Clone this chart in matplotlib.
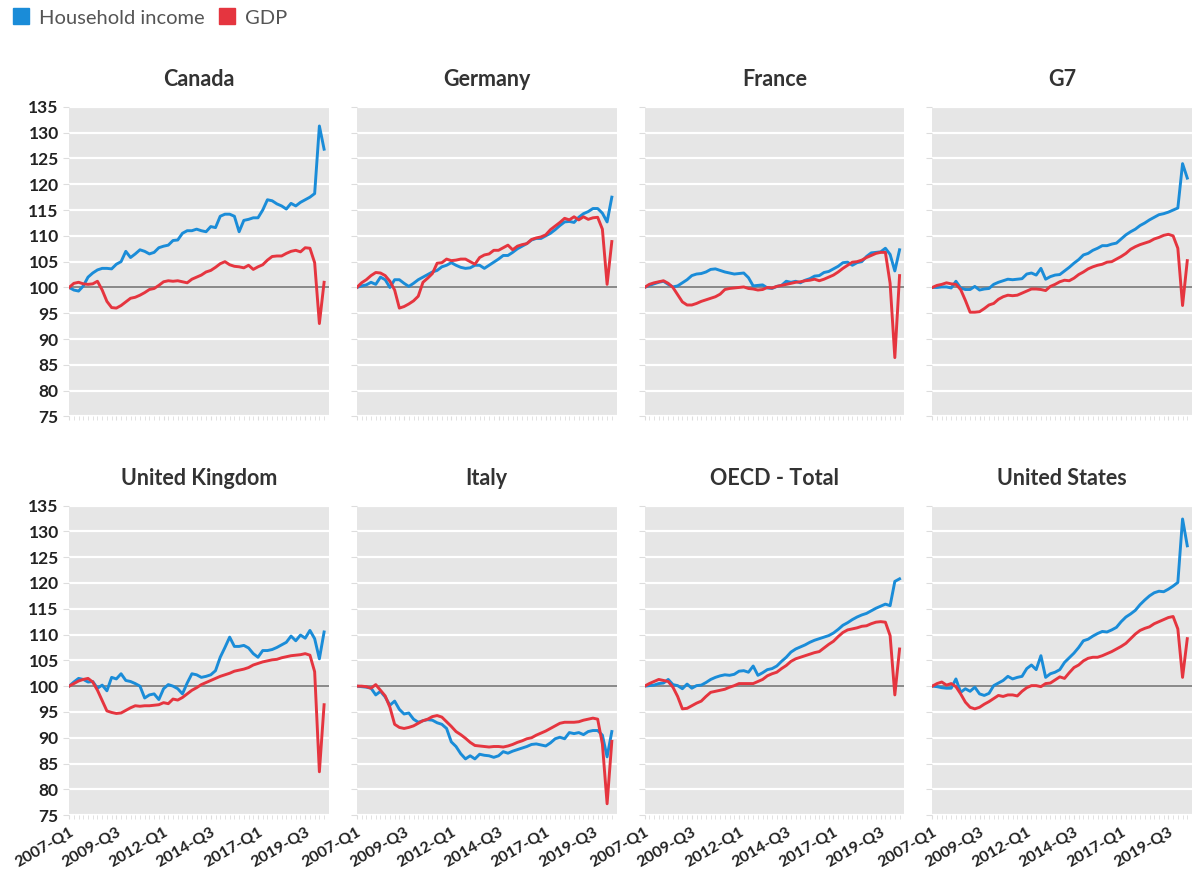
import matplotlib
matplotlib.use("Agg")
import matplotlib.pyplot as plt
from matplotlib.lines import Line2D

plt.rcParams['font.family'] = ['Lato', 'DejaVu Sans']

# quarters 2007-Q1 .. 2020-Q3
quarters = [f"{y}-Q{q}" for y in range(2007, 2021) for q in range(1, 5)][:55]
tick_labels = ["2007-Q1", "2009-Q3", "2012-Q1", "2014-Q3", "2017-Q1", "2019-Q3"]

titles = ["Canada", "Germany", "France", "G7",
          "United Kingdom", "Italy", "OECD - Total", "United States"]

canada_income = [100.0, 99.5, 99.3, 100.3, 102.0, 102.8, 103.4, 103.7, 103.7, 103.6,
                 104.5, 105.0, 107.0, 105.8, 106.5, 107.3, 107.0, 106.5, 106.8, 107.7,
                 108.0, 108.2, 109.1, 109.2, 110.5, 111.0, 111.0, 111.3, 111.0, 110.8,
                 111.8, 111.6, 113.8, 114.2, 114.2, 113.8, 110.8, 113.0, 113.2, 113.5,
                 113.5, 115.0, 117.0, 116.8, 116.2, 115.8, 115.2, 116.3, 115.8, 116.5,
                 117.0, 117.5, 118.2, 131.3, 126.8]
canada_gdp = [100.0, 100.8, 101.0, 100.7, 100.6, 100.7, 101.2, 99.5, 97.3, 96.1,
              96.0, 96.5, 97.2, 97.9, 98.1, 98.5, 99.0, 99.6, 99.8, 100.4,
              101.1, 101.3, 101.2, 101.3, 101.1, 100.9, 101.6, 102.0, 102.4, 103.0,
              103.3, 103.9, 104.6, 105.0, 104.4, 104.1, 104.0, 103.8, 104.3, 103.5,
              104.0, 104.4, 105.3, 106.0, 106.1, 106.1, 106.6, 107.0, 107.2, 106.9,
              107.7, 107.6, 104.8, 93.0, 101.0]

germany_income = [100.0, 100.3, 100.5, 101.0, 100.6, 102.0, 101.5, 100.0, 101.5, 101.5,
                  100.8, 100.2, 100.8, 101.5, 102.0, 102.5, 103.0, 103.3, 104.0, 104.3,
                  104.8, 104.3, 103.9, 103.7, 103.8, 104.3, 104.3, 103.7, 104.3, 104.9,
                  105.5, 106.2, 106.2, 106.8, 107.5, 108.0, 108.5, 109.2, 109.5, 109.5,
                  110.0, 110.5, 111.2, 112.0, 112.7, 112.8, 112.6, 113.6, 114.3, 114.7,
                  115.3, 115.3, 114.4, 112.7, 117.5]
germany_gdp = [100.0, 100.9, 101.5, 102.3, 102.9, 102.8, 102.3, 101.2, 99.5, 96.0,
               96.3, 96.8, 97.4, 98.3, 101.0, 101.8, 102.7, 104.7, 104.8, 105.5,
               105.2, 105.3, 105.5, 105.5, 105.0, 104.5, 105.8, 106.3, 106.5, 107.2,
               107.2, 107.7, 108.2, 107.3, 108.0, 108.3, 108.5, 109.3, 109.6, 109.8,
               110.2, 111.2, 111.9, 112.6, 113.4, 113.1, 113.7, 113.1, 113.7, 113.2,
               113.5, 113.6, 111.3, 100.6, 108.9]

france_income = [100.0, 100.4, 100.7, 101.0, 101.2, 100.6, 100.1, 100.3, 100.9, 101.5,
                 102.3, 102.6, 102.7, 103.0, 103.5, 103.6, 103.3, 103.0, 102.8, 102.6,
                 102.7, 102.8, 101.9, 100.3, 100.4, 100.5, 99.9, 99.8, 100.2, 100.4,
                 101.2, 101.0, 101.2, 100.9, 101.4, 101.7, 102.2, 102.3, 102.9, 103.1,
                 103.6, 104.1, 104.8, 104.9, 104.3, 104.8, 105.0, 106.0, 106.7, 106.8,
                 106.9, 107.6, 106.4, 103.2, 107.3]
france_gdp = [100.0, 100.6, 100.9, 101.1, 101.3, 100.8, 100.0, 98.6, 97.2, 96.6,
              96.6, 96.9, 97.3, 97.6, 97.9, 98.2, 98.7, 99.6, 99.8, 99.9,
              100.0, 100.1, 99.8, 99.7, 99.5, 99.6, 100.0, 99.9, 100.2, 100.4,
              100.6, 100.8, 101.0, 101.1, 101.3, 101.4, 101.6, 101.3, 101.6, 102.0,
              102.4, 103.0, 103.7, 104.3, 104.9, 105.0, 105.3, 105.8, 106.2, 106.6,
              106.8, 106.8, 100.8, 86.4, 102.3]

g7_income = [100.0, 100.0, 100.1, 100.1, 99.9, 101.2, 99.9, 99.6, 99.6, 100.2,
             99.5, 99.7, 99.8, 100.6, 101.0, 101.3, 101.6, 101.5, 101.6, 101.7,
             102.6, 102.8, 102.4, 103.7, 101.6, 102.1, 102.4, 102.5, 103.2, 103.9,
             104.7, 105.4, 106.3, 106.6, 107.2, 107.6, 108.1, 108.1, 108.4, 108.6,
             109.4, 110.2, 110.8, 111.3, 112.0, 112.5, 113.1, 113.6, 114.1, 114.3,
             114.6, 115.0, 115.4, 124.0, 121.2]
g7_gdp = [100.0, 100.4, 100.6, 100.9, 100.7, 100.6, 99.6, 97.5, 95.2, 95.2,
          95.3, 95.9, 96.6, 96.9, 97.7, 98.2, 98.5, 98.4, 98.5, 98.9,
          99.3, 99.7, 99.7, 99.6, 99.4, 100.2, 100.6, 101.1, 101.4, 101.3,
          101.8, 102.5, 103.0, 103.6, 104.0, 104.3, 104.5, 104.9, 105.0, 105.5,
          106.0, 106.6, 107.4, 107.9, 108.3, 108.6, 108.9, 109.4, 109.7, 110.1,
          110.3, 110.0, 107.6, 96.5, 105.2]

uk_income = [100.0, 100.8, 101.5, 101.3, 100.8, 100.9, 99.6, 100.2, 99.1, 101.7,
             101.4, 102.4, 101.1, 100.9, 100.5, 100.0, 97.7, 98.3, 98.5, 97.4,
             99.5, 100.3, 100.0, 99.5, 98.5, 100.6, 102.4, 102.2, 101.7, 101.9,
             102.2, 103.0, 105.6, 107.5, 109.5, 107.7, 107.7, 107.9, 107.4, 106.3,
             105.6, 106.9, 106.9, 107.1, 107.5, 108.0, 108.5, 109.7, 108.8, 109.9,
             109.3, 110.8, 109.2, 105.3, 110.5]
uk_gdp = [100.0, 100.5, 101.0, 101.3, 101.5, 100.8, 99.2, 97.2, 95.2, 94.9,
          94.7, 94.8, 95.3, 95.8, 96.2, 96.1, 96.2, 96.2, 96.3, 96.4,
          96.8, 96.6, 97.5, 97.3, 97.8, 98.5, 99.2, 99.7, 100.3, 100.7,
          101.1, 101.5, 101.9, 102.2, 102.5, 102.9, 103.1, 103.3, 103.6, 104.1,
          104.4, 104.7, 104.9, 105.1, 105.2, 105.5, 105.7, 105.9, 106.0, 106.1,
          106.3, 106.0, 102.8, 83.4, 96.4]

italy_income = [100.0, 99.9, 99.8, 99.6, 98.3, 99.0, 97.9, 96.3, 97.1, 95.5,
                94.6, 94.8, 93.6, 93.0, 93.3, 93.5, 93.4, 92.9, 92.6, 91.8,
                89.2, 88.3, 86.9, 85.9, 86.5, 85.9, 86.8, 86.6, 86.5, 86.2,
                86.5, 87.3, 87.0, 87.4, 87.7, 88.0, 88.3, 88.7, 88.8, 88.6,
                88.4, 89.0, 89.8, 90.1, 89.8, 91.0, 90.8, 91.0, 90.6, 91.2,
                91.4, 91.4, 90.5, 86.3, 91.2]
italy_gdp = [100.0, 100.0, 99.9, 99.6, 100.3, 99.2, 98.1, 95.9, 92.6, 92.0,
             91.8, 92.0, 92.3, 92.8, 93.3, 93.6, 94.1, 94.3, 94.0, 93.1,
             92.2, 91.2, 90.6, 89.9, 89.1, 88.5, 88.4, 88.3, 88.2, 88.3,
             88.3, 88.2, 88.4, 88.7, 89.1, 89.4, 89.8, 90.0, 90.5, 90.9,
             91.3, 91.8, 92.3, 92.8, 93.0, 93.0, 93.0, 93.1, 93.4, 93.6,
             93.8, 93.6, 88.8, 77.2, 89.3]

oecd_income = [100.0, 100.1, 100.2, 100.5, 100.6, 101.3, 100.3, 100.1, 99.5, 100.4,
               99.6, 100.1, 100.2, 100.7, 101.3, 101.7, 102.0, 102.2, 102.1, 102.3,
               102.9, 103.0, 102.7, 103.9, 102.1, 102.6, 103.2, 103.4, 103.9, 104.8,
               105.6, 106.6, 107.2, 107.6, 108.0, 108.5, 108.9, 109.2, 109.5, 109.8,
               110.3, 111.0, 111.8, 112.3, 112.9, 113.4, 113.8, 114.1, 114.6, 115.1,
               115.5, 115.9, 115.6, 120.3, 120.8]
oecd_gdp = [100.0, 100.5, 100.9, 101.3, 101.1, 100.9, 99.8, 98.0, 95.6, 95.7,
            96.2, 96.7, 97.1, 98.0, 98.8, 99.0, 99.2, 99.4, 99.8, 100.1,
            100.5, 100.5, 100.5, 100.5, 100.9, 101.3, 102.0, 102.4, 102.7, 103.4,
            104.0, 104.8, 105.3, 105.6, 105.9, 106.2, 106.5, 106.7, 107.4, 108.1,
            108.7, 109.6, 110.4, 110.9, 111.1, 111.3, 111.6, 111.7, 112.1, 112.4,
            112.5, 112.4, 109.8, 98.3, 107.2]

us_income = [100.0, 99.9, 99.7, 99.6, 99.6, 101.4, 98.8, 99.5, 99.0, 99.8,
             98.5, 98.2, 98.6, 100.1, 100.6, 101.1, 101.9, 101.4, 101.7, 101.9,
             103.4, 104.1, 103.2, 105.9, 101.7, 102.4, 102.7, 103.2, 104.6, 105.5,
             106.4, 107.5, 108.8, 109.1, 109.7, 110.2, 110.6, 110.5, 110.9, 111.4,
             112.5, 113.4, 114.0, 114.7, 115.8, 116.7, 117.5, 118.1, 118.4, 118.3,
             118.8, 119.4, 120.1, 132.4, 127.2]
us_gdp = [100.0, 100.5, 100.8, 100.2, 100.5, 99.9, 98.5, 96.9, 95.9, 95.6,
          95.9, 96.5, 97.0, 97.6, 98.2, 98.0, 98.3, 98.3, 98.1, 99.0,
          99.7, 100.1, 100.1, 99.9, 100.5, 100.6, 101.2, 101.8, 101.5, 102.6,
          103.6, 104.1, 104.9, 105.4, 105.6, 105.6, 105.9, 106.3, 106.7, 107.2,
          107.7, 108.3, 109.2, 110.1, 110.8, 111.2, 111.5, 112.1, 112.5, 112.9,
          113.3, 113.5, 111.1, 101.7, 109.2]

income = [canada_income, germany_income, france_income, g7_income,
          uk_income, italy_income, oecd_income, us_income]
gdp = [canada_gdp, germany_gdp, france_gdp, g7_gdp,
       uk_gdp, italy_gdp, oecd_gdp, us_gdp]

blue = "#1a8cd8"
red = "#e5353f"

fig, axes = plt.subplots(2, 4, figsize=(11.92, 8.69), dpi=100, sharex=True, sharey=True)
plt.subplots_adjust(left=0.058, right=1.0, top=0.877, bottom=0.062, wspace=0.108, hspace=0.288)

x = list(range(len(quarters)))
tick_pos = [quarters.index(t) for t in tick_labels]

for k, ax in enumerate(axes.flat):
    ax.set_facecolor("#e6e6e6")
    for s in ax.spines.values():
        s.set_visible(False)
    ax.set_ylim(75, 135)
    ax.set_yticks(range(75, 136, 5))
    ax.set_xlim(0, 55)
    ax.grid(axis="y", color="white", linewidth=1.6)
    ax.set_axisbelow(True)
    ax.axhline(100, color="#7f7f7f", linewidth=1.3, zorder=2)
    ax.plot(x, income[k], color=blue, linewidth=2.1, zorder=3)
    ax.plot(x, gdp[k], color=red, linewidth=2.1, zorder=3)
    ax.set_title(titles[k], fontsize=15.5, fontweight="bold", color="#333333", pad=15)
    ax.set_xticks(tick_pos)
    ax.set_xticklabels(tick_labels, rotation=30, ha="right", rotation_mode="anchor")
    ax.set_xticks(x, minor=True)
    ax.tick_params(axis="x", which="both", length=3, color="#dddddd", labelsize=11.5,
                   labelcolor="#222222", pad=4)
    ax.tick_params(axis="y", length=4, color="#dddddd", labelsize=12.5, labelcolor="#222222")
    for lab in ax.get_xticklabels() + ax.get_yticklabels():
        lab.set_fontweight("bold")

handles = [Line2D([], [], marker="s", linestyle="none", markersize=12, color=blue),
           Line2D([], [], marker="s", linestyle="none", markersize=12, color=red)]
fig.legend(handles, ["Household income", "GDP"], loc="upper left", bbox_to_anchor=(-0.006, 1.01),
           ncol=2, frameon=False, fontsize=14.5, handlelength=1.0, handletextpad=0.4,
           columnspacing=0.6, labelcolor="#555555")

plt.savefig("out.png", dpi=100)
